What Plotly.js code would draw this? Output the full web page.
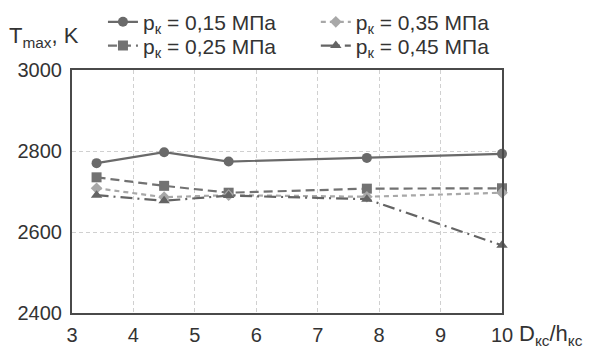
<!DOCTYPE html>
<html>
<head>
<meta charset="utf-8">
<script src="https://cdn.plot.ly/plotly-3.0.1.min.js"></script>
<style>
  html, body { margin: 0; padding: 0; background: #fff; }
  #chart { width: 600px; height: 350px; }
</style>
</head>
<body>
<div id="chart"></div>
<script>
// Chamber geometry ratio D_кс / h_кс
const ratio = [3.4, 4.5, 5.55, 7.8, 10];

// Maximum temperature, K, for each chamber pressure
const t015 = [2770, 2797, 2774, 2783, 2793];
const t025 = [2735, 2714, 2697, 2707, 2708];
const t035 = [2708, 2686, 2691, 2687, 2697];
const t045 = [2691, 2677, 2690, 2681, 2567];

const names = {
  p015: 'p<sub>к</sub> = 0,15 МПа',
  p025: 'p<sub>к</sub> = 0,25 МПа',
  p035: 'p<sub>к</sub> = 0,35 МПа',
  p045: 'p<sub>к</sub> = 0,45 МПа'
};

const yTicks = [2400, 2600, 2800, 3000];
const xTicks = [3, 4, 5, 6, 7, 8, 9, 10];

const font = 'Liberation Sans, Arial, sans-serif';

function series(y, name, color, dash, symbol, size, legendId) {
  return {
    x: ratio, y: y, name: name, type: 'scatter', mode: 'lines+markers',
    line: { color: color, width: 2.2, dash: dash },
    marker: { color: color, symbol: symbol, size: size },
    legend: legendId,
    cliponaxis: false
  };
}

const data = [
  series(t015, names.p015, '#6a6a6a', 'solid', 'circle', 10, 'legend'),
  series(t025, names.p025, '#727272', '9px,5px', 'square', 10, 'legend2'),
  series(t035, names.p035, '#a8a8a8', '5px,4px', 'diamond', 9, 'legend3'),
  series(t045, names.p045, '#646464', '12px,5px,2px,5px', 'triangle-up', 10, 'legend4')
];

// One legend box per entry: two columns, two rows above the plot
function legendBox(x, y) {
  return {
    x: x, y: y, xanchor: 'left', yanchor: 'middle',
    font: { family: font, size: 21, color: '#333' },
    bgcolor: 'rgba(0,0,0,0)', borderwidth: 0
  };
}

const layout = {
  width: 600, height: 350,
  margin: { l: 72, r: 98, t: 70, b: 37, autoexpand: false },
  paper_bgcolor: '#fff', plot_bgcolor: '#fff',
  font: { family: font, size: 20, color: '#333' },
  showlegend: true,
  legend: legendBox(0.072, 1.197),
  legend2: legendBox(0.072, 1.099),
  legend3: legendBox(0.567, 1.197),
  legend4: legendBox(0.567, 1.099),
  xaxis: {
    range: [3, 10], tickvals: xTicks, ticktext: xTicks.map(String),
    showline: true, mirror: true, linecolor: '#4a4a4a', linewidth: 2,
    showgrid: true, gridcolor: '#d0d0d0', griddash: '4px,3px', gridwidth: 1,
    zeroline: false, ticks: '', ticklabelstandoff: 3,
    tickfont: { family: font, size: 20, color: '#333' }
  },
  yaxis: {
    range: [2400, 3000], tickvals: yTicks, ticktext: yTicks.map(String),
    showline: true, mirror: true, linecolor: '#4a4a4a', linewidth: 2,
    showgrid: true, gridcolor: '#d0d0d0', griddash: '4px,3px', gridwidth: 1,
    zeroline: false, ticks: '', ticklabelstandoff: 4,
    tickfont: { family: font, size: 20, color: '#333' }
  },
  annotations: [
    {
      text: 'T<sub>max</sub>, K', xref: 'paper', yref: 'paper',
      x: -0.152, y: 1.135, xanchor: 'left', yanchor: 'middle', showarrow: false,
      font: { family: font, size: 22, color: '#333' }
    },
    {
      text: 'D<sub>кс</sub>/h<sub>кс</sub>', xref: 'paper', yref: 'paper',
      x: 1.035, y: -0.09, xanchor: 'left', yanchor: 'middle', showarrow: false,
      font: { family: font, size: 22, color: '#333' }
    }
  ]
};

Plotly.newPlot('chart', data, layout, { displayModeBar: false, staticPlot: true });
</script>
</body>
</html>
